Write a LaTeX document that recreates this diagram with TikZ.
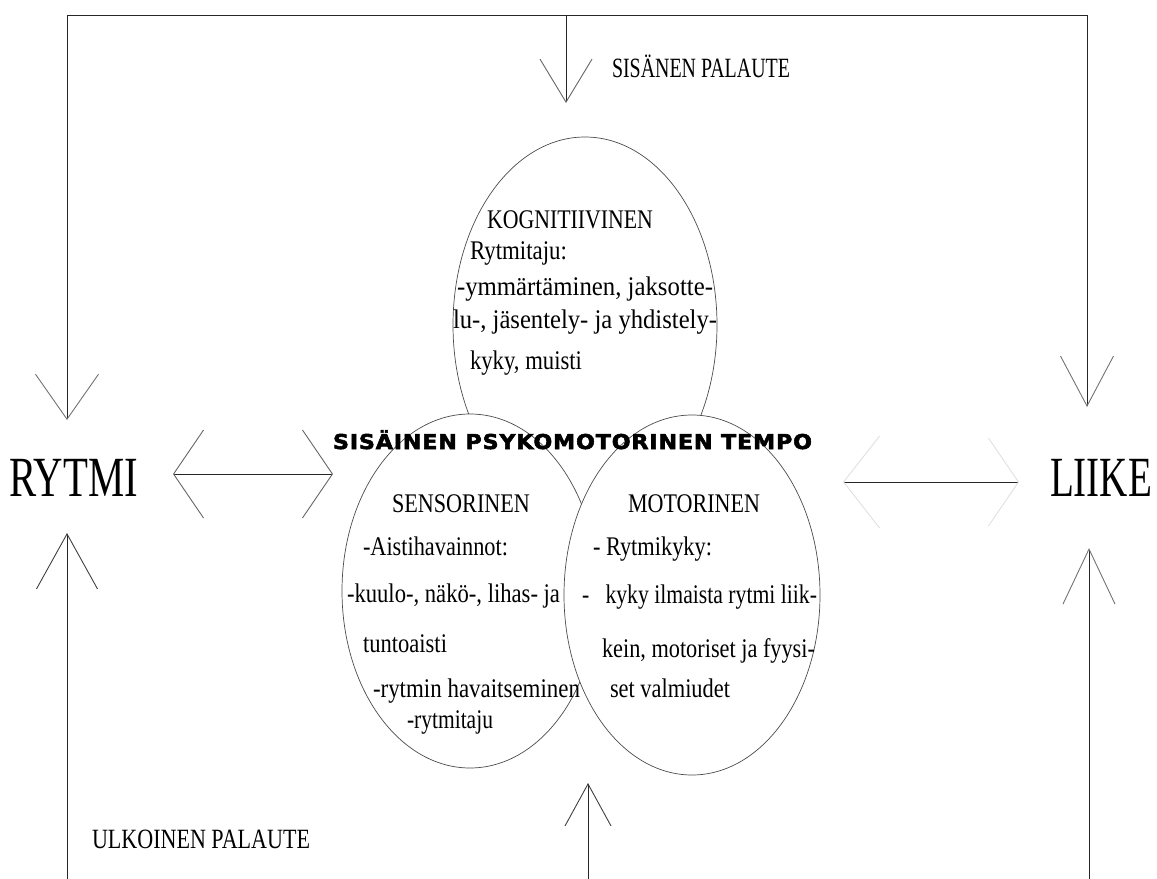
\documentclass[tikz,border=0pt]{standalone}
\usepackage{fontspec}
\setmainfont{Liberation Serif}
\newfontfamily\boldsans{DejaVu Sans}[LetterSpace=4,BoldFeatures={FakeBold=2.6}]
\usetikzlibrary{arrows.meta,shapes.geometric}
\newcommand\fw[3]{\resizebox{#1bp}{\height}{\fontsize{#2}{#2}\selectfont #3}}
\begin{document}
\begin{tikzpicture}[x=1bp,y=-1bp,
  txt/.style={inner sep=0pt,outer sep=0pt,anchor=base west,text=black},
  ln/.style={draw=black!85,line width=0.9bp},
  ell/.style={draw=black!70,line width=0.7bp,fill=white,ellipse,inner sep=0pt},
]
\useasboundingbox (0,0) rectangle (1157,879);
% coordinates
\coordinate (tl) at (67,15);
\coordinate (tr) at (1087,15);
\coordinate (tm) at (566,15);
\coordinate (tipL) at (67,420);
\coordinate (tipR) at (1087,407);
\coordinate (tipM) at (566,103);
\coordinate (bl) at (67,879);
\coordinate (tipBL) at (67,533);
\coordinate (bm) at (588,879);
\coordinate (tipBM) at (588,783);
\coordinate (br) at (1089,879);
\coordinate (tipBR) at (1089,548);
\coordinate (la) at (173,474);
\coordinate (lb) at (333,474);
\coordinate (ra) at (843,482);
\coordinate (rb) at (1019,482);

% ellipses
\node[ell,minimum width=264bp,minimum height=376bp] (kog) at (585,325) {};
\node[ell,minimum width=256bp,minimum height=354bp] (sens) at (470,591) {};
\node[ell,minimum width=256bp,minimum height=360bp] (mot) at (692,595) {};

% connectors
\draw[ln,{Straight Barb[length=45bp,width=63bp,color=black!55]}-{Straight Barb[length=50bp,width=53bp,color=black!55]}]
  (tipL) -- (tl) -- (tr) -- (tipR);
\draw[ln,-{Straight Barb[length=43bp,width=52bp,color=black!60]}] (tm) -- (tipM);
\draw[ln,{Straight Barb[length=30bp,width=88bp,color=black!60]}-{Straight Barb[length=30bp,width=88bp,color=black!60]}] (la) -- (lb);
\draw[ln,{Straight Barb[length=36bp,width=92bp,color=black!12]}-{Straight Barb[length=30bp,width=88bp,color=black!12]}] (ra) -- (rb);
\draw[ln,-{Straight Barb[length=55bp,width=61bp,color=black!75]}] (bl) -- (tipBL);
\draw[ln,-{Straight Barb[length=42bp,width=46bp,color=black!75]}] (bm) -- (tipBM);
\draw[ln,-{Straight Barb[length=55bp,width=52bp,color=black!55]}] (br) -- (tipBR);

% big labels
\node[txt] (rytmi) at (9,496) {\fw{129}{57}{RYTMI}};
\node[txt] (liike) at (1050,496) {\fw{102}{57}{LIIKE}};
\node[txt] (sisp) at (612,77) {\fw{178}{28}{SISÄNEN PALAUTE}};
\node[txt] (ulkp) at (92,848) {\fw{218}{28}{ULKOINEN PALAUTE}};
\node[txt] (tempo) at (333,449) {\resizebox{479bp}{\height}{\fontsize{20.5}{20.5}\boldsans\bfseries SISÄINEN PSYKOMOTORINEN TEMPO}};

% kognitiivinen
\node[txt] (k1) at (487,228) {\fw{166}{27}{KOGNITIIVINEN}};
\node[txt] (k2) at (470,259) {\fw{97}{27}{Rytmitaju:}};
\node[txt] (k3) at (457,295) {\fw{256}{27}{-ymmärtäminen, jaksotte-}};
\node[txt] (k4) at (453,328) {\fw{264}{27}{lu-, jäsentely- ja yhdistely-}};
\node[txt] (k5) at (470,369) {\fw{112}{27}{kyky, muisti}};

% sensorinen
\node[txt] (s1) at (392,512) {\fw{138}{27}{SENSORINEN}};
\node[txt] (s2) at (363,555) {\fw{145}{27}{-Aistihavainnot:}};
\node[txt] (s3) at (347,602) {\fw{213}{27}{-kuulo-, näkö-, lihas- ja}};
\node[txt] (s4) at (363,652) {\fw{84}{27}{tuntoaisti}};
\node[txt] (s5) at (373,697) {\fw{207}{27}{-rytmin havaitseminen}};
\node[txt] (s6) at (407,728) {\fw{86}{27}{-rytmitaju}};

% motorinen
\node[txt] (m1) at (628,512) {\fw{132}{27}{MOTORINEN}};
\node[txt] (m2) at (593,555) {\fw{119}{27}{- Rytmikyky:}};
\node[txt] (m3) at (582,603) {\fw{235}{27}{-\hspace{0.5em} kyky ilmaista rytmi liik-}};
\node[txt] (m4) at (602,657) {\fw{213}{27}{kein, motoriset ja fyysi-}};
\node[txt] (m5) at (610,697) {\fw{120}{27}{set valmiudet}};
\end{tikzpicture}
\end{document}
